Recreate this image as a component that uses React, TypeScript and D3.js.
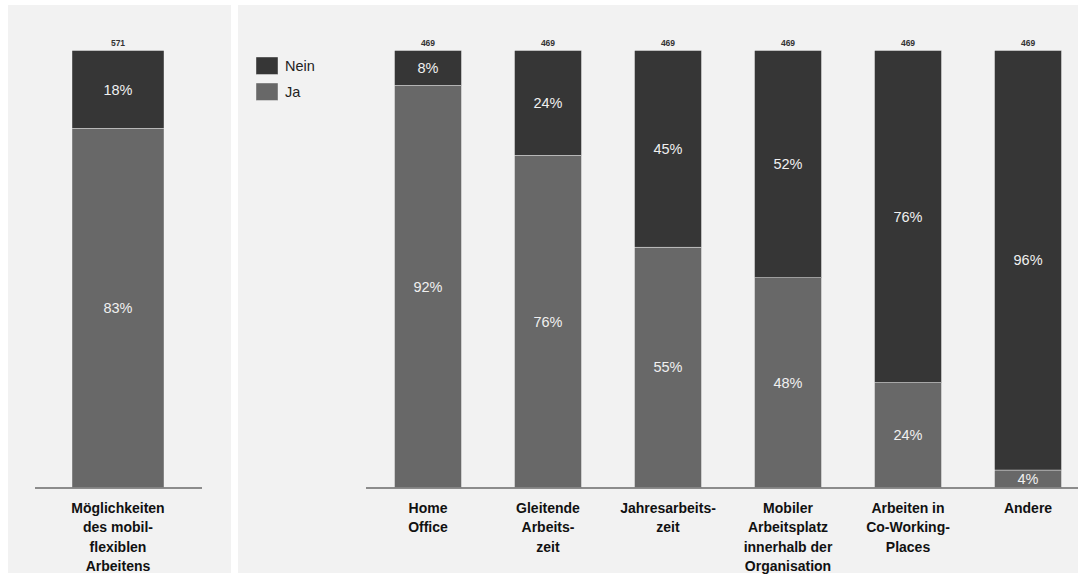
import React from "react";
import * as d3 from "d3";

// Overview bar: share of respondents with mobile-flexible work options
const overviewCategory = ["Möglichkeiten des mobil-flexiblen Arbeitens"];
const overviewLines = [["Möglichkeiten", "des mobil-", "flexiblen", "Arbeitens"]];
const overviewJa = [83];
const overviewNein = [18];
const overviewN = [571];

// Detail bars: individual options
const categories = [
  "Home Office",
  "Gleitende Arbeitszeit",
  "Jahresarbeitszeit",
  "Mobiler Arbeitsplatz innerhalb der Organisation",
  "Arbeiten in Co-Working-Places",
  "Andere",
];
const categoryLines = [
  ["Home", "Office"],
  ["Gleitende", "Arbeits-", "zeit"],
  ["Jahresarbeits-", "zeit"],
  ["Mobiler", "Arbeitsplatz", "innerhalb der", "Organisation"],
  ["Arbeiten in", "Co-Working-", "Places"],
  ["Andere"],
];
const jaValues = [92, 76, 55, 48, 24, 4];
const neinValues = [8, 24, 45, 52, 76, 96];
const nValues = [469, 469, 469, 469, 469, 469];

const seriesNames = ["Nein", "Ja"];

const COLORS: Record<string, string> = { Nein: "#363636", Ja: "#686868" };
const BG = "#f2f2f2";
const FONT = "'Liberation Sans', Arial, sans-serif";

const W = 1078;
const H = 576;
const Y_TOP = 50.5;
const Y_BASE = 487.5;

type BarProps = {
  x: number;
  w: number;
  ja: number;
  nein: number;
  n: number;
  lines: string[];
};

function StackedBar({ x, w, ja, nein, n, lines }: BarProps) {
  const total = ja + nein;
  const y = d3.scaleLinear().domain([0, total]).range([Y_BASE, Y_TOP]);
  const cx = x + w / 2;
  const segs = [
    { key: "Ja", v0: 0, v1: ja, label: `${ja}%` },
    { key: "Nein", v0: ja, v1: total, label: `${nein}%` },
  ];
  return (
    <g>
      {segs.map((s) => {
        const yTop = y(s.v1);
        const yBot = y(s.v0);
        return (
          <g key={s.key}>
            <rect
              x={x}
              y={yTop}
              width={w}
              height={yBot - yTop}
              fill={COLORS[s.key]}
              stroke="#fafafa"
              strokeWidth={0.4}
            />
            <text
              x={cx}
              y={(yTop + yBot) / 2}
              dy="0.35em"
              textAnchor="middle"
              fill="#f0f0f0"
              fontSize={14.5}
              fontFamily={FONT}
            >
              {s.label}
            </text>
          </g>
        );
      })}
      <text
        x={cx}
        y={Y_TOP - 5}
        textAnchor="middle"
        fill="#333"
        fontSize={8.5}
        fontWeight="bold"
        fontFamily={FONT}
      >
        {n}
      </text>
      <text
        x={cx}
        y={513}
        textAnchor="middle"
        fill="#111"
        fontSize={14}
        fontWeight="bold"
        fontFamily={FONT}
      >
        {lines.map((l, i) => (
          <tspan key={i} x={cx} dy={i === 0 ? 0 : 19.3}>
            {l}
          </tspan>
        ))}
      </text>
    </g>
  );
}

export default function App() {
  const xLeft = d3.scaleBand<string>().domain(overviewCategory).range([72, 164]).padding(0);
  const xRight = d3
    .scaleBand<string>()
    .domain(categories)
    .range([394.5, 1061.5])
    .paddingInner(0.442)
    .paddingOuter(0);

  return (
    <svg
      width={W}
      height={H}
      style={{ position: "absolute", left: 0, top: 0, background: "#fff" }}
    >
      {/* panels */}
      <rect x={8} y={5} width={223} height={568} fill={BG} />
      <rect x={238} y={5} width={840} height={568} fill={BG} />

      {/* overview panel */}
      {overviewCategory.map((c, i) => (
        <StackedBar
          key={c}
          x={xLeft(c)!}
          w={xLeft.bandwidth()}
          ja={overviewJa[i]}
          nein={overviewNein[i]}
          n={overviewN[i]}
          lines={overviewLines[i]}
        />
      ))}
      <line x1={35} x2={202} y1={Y_BASE + 0.5} y2={Y_BASE + 0.5} stroke="#6a6a6a" strokeWidth={1.6} />

      {/* detail panel */}
      {categories.map((c, i) => (
        <StackedBar
          key={c}
          x={xRight(c)!}
          w={xRight.bandwidth()}
          ja={jaValues[i]}
          nein={neinValues[i]}
          n={nValues[i]}
          lines={categoryLines[i]}
        />
      ))}
      <line x1={366} x2={1078} y1={Y_BASE + 0.5} y2={Y_BASE + 0.5} stroke="#6a6a6a" strokeWidth={1.6} />

      {/* legend */}
      {seriesNames.map((s, i) => (
        <g key={s} transform={`translate(256, ${57 + i * 26})`}>
          <rect width={22} height={17.5} fill={COLORS[s]} stroke="#fafafa" strokeWidth={0.4} />
          <text x={29} y={9} dy="0.35em" fontSize={14.5} fill="#222" fontFamily={FONT}>
            {s}
          </text>
        </g>
      ))}
    </svg>
  );
}
